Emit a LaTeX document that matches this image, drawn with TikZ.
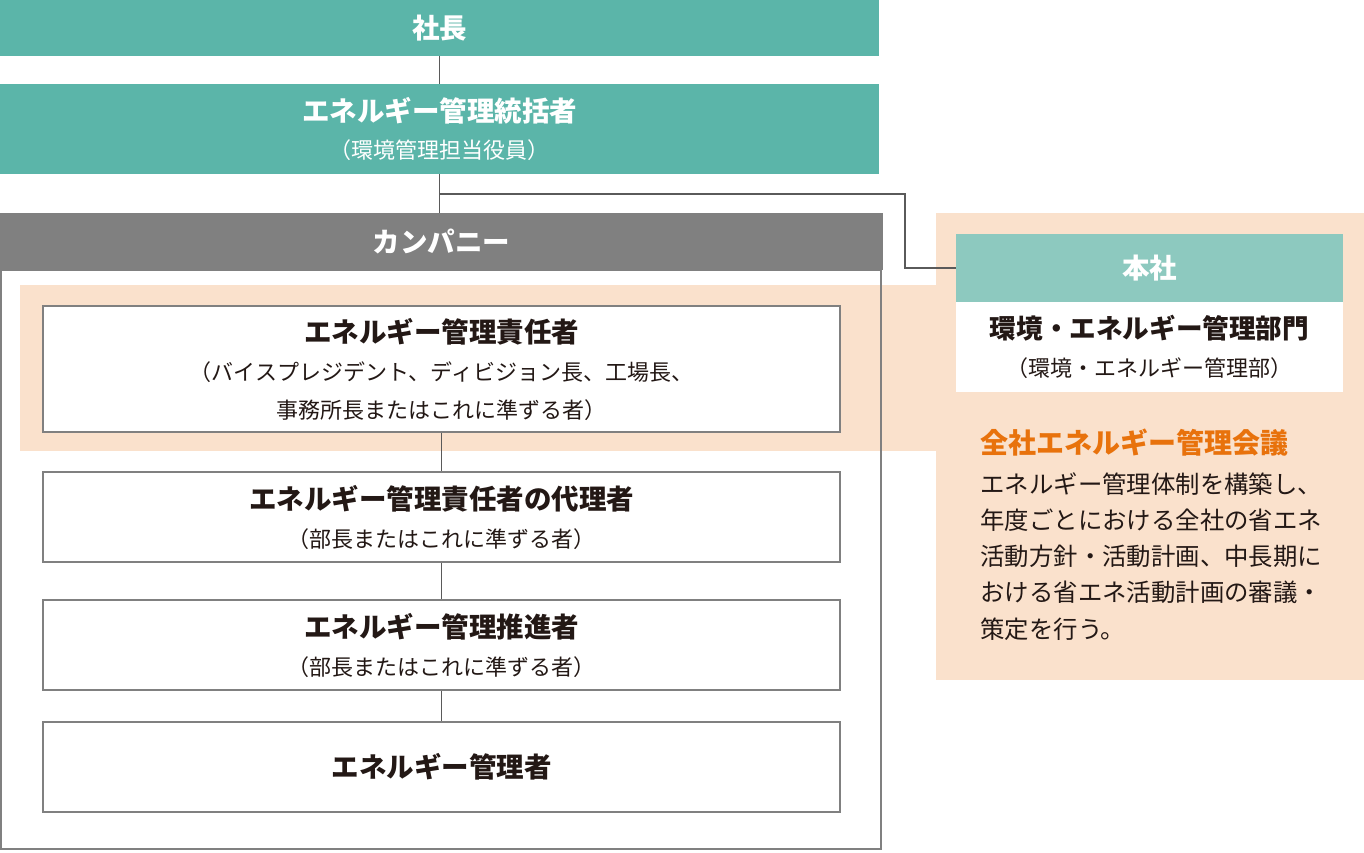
\documentclass[tikz,border=0pt]{standalone}
\usepackage{fontspec}
\setmainfont{Noto Sans CJK JP}
\usepackage{xcolor}
\usepackage{tikz}
\definecolor{OrgTeal}{RGB}{91,181,169}
\definecolor{OrgLightTeal}{RGB}{141,201,191}
\definecolor{OrgGray}{RGB}{128,128,128}
\definecolor{OrgPeach}{RGB}{250,225,204}
\definecolor{OrgOrange}{RGB}{232,114,12}
\definecolor{OrgInk}{RGB}{35,24,21}
\definecolor{OrgLine}{RGB}{90,90,90}
\newcommand{\rolehead}[1]{{\fontsize{13.75pt}{18.5pt}\selectfont\bfseries #1}}
\newcommand{\rolesub}[1]{{\fontsize{11pt}{19pt}\selectfont #1}}

\begin{document}
\begin{tikzpicture}[x=0.5pt, y=-0.5pt,
  topbox/.style={fill=OrgTeal, text=white, align=center, inner sep=0pt, minimum width=439.5pt, font=\fontsize{11pt}{18.5pt}\selectfont},
  rolebox/.style={draw=OrgGray, fill=white, text=OrgInk, align=center, inner sep=0pt, line width=0.6pt, minimum width=398.5pt, minimum height=45pt, font=\fontsize{11pt}{19pt}\selectfont},
  link/.style={draw=OrgLine, line width=0.6pt}]
\useasboundingbox (0,0) rectangle (1364,852);

% Peach background
\fill[OrgPeach] (20,285) rectangle (936,451);
\fill[OrgPeach] (936,213) rectangle (1364,680);

% Top management
\node[topbox, minimum height=28pt] (president) at (439.5,28) {\rolehead{社長}};
\node[topbox, minimum height=45pt] (director) at (439.5,129) {\rolehead{エネルギー管理統括者}\\\rolesub{（環境管理担当役員）}};

% Company
\node[fill=OrgGray, text=white, inner sep=0pt, minimum width=441.5pt, minimum height=28.5pt] (company) at (441.5,241.5) {\rolehead{カンパニー}};
\node[draw=OrgGray, line width=0.6pt, inner sep=0pt, minimum width=440pt, minimum height=289.5pt] (frame) at (441,559.5) {};

% Role boxes
\node[rolebox, minimum height=63pt] (chief) at (441.5,369) {\rolehead{エネルギー管理責任者}\\\rolesub{（バイスプレジデント、ディビジョン長、工場長、}\\\rolesub{事務所長またはこれに準ずる者）}};
\node[rolebox] (deputy) at (441.5,517) {\rolehead{エネルギー管理責任者の代理者}\\\rolesub{（部長またはこれに準ずる者）}};
\node[rolebox] (promoter) at (441.5,645) {\rolehead{エネルギー管理推進者}\\\rolesub{（部長またはこれに準ずる者）}};
\node[rolebox] (manager) at (441.5,767) {\rolehead{エネルギー管理者}};

% Head office
\node[fill=OrgLightTeal, text=white, inner sep=0pt, minimum width=193.5pt, minimum height=34pt] (head) at (1149.5,268) {\rolehead{本社}};
\node[fill=white, text=OrgInk, align=center, inner sep=0pt, minimum width=193.5pt, minimum height=45pt, font=\fontsize{11pt}{19pt}\selectfont] (dept) at (1149.5,347) {{\fontsize{13.3pt}{18pt}\selectfont\bfseries 環境・エネルギー管理部門}\\\rolesub{（環境・エネルギー管理部）}};

% Council
\node[anchor=west, text=OrgOrange, inner sep=0pt, font=\fontsize{14pt}{18pt}\selectfont\bfseries] (council) at (980,443) {全社エネルギー管理会議};
\node[anchor=north west, text=OrgInk, align=left, inner sep=0pt, font=\fontsize{12.2pt}{18.1pt}\selectfont] (duty) at (980,472) {エネルギー管理体制を構築し、\\年度ごとにおける全社の省エネ\\活動方針・活動計画、中長期に\\おける省エネ活動計画の審議・\\策定を行う。};

% Connectors
\coordinate (bend) at (905,194);
\draw[link] (president) -- (director);
\draw[link] (director.south) -- (director.south |- company.north);
\draw[link] (director.south) |- (bend) |- (head.west);
\draw[link] (chief) -- (deputy);
\draw[link] (deputy) -- (promoter);
\draw[link] (promoter) -- (manager);

\end{tikzpicture}
\end{document}
